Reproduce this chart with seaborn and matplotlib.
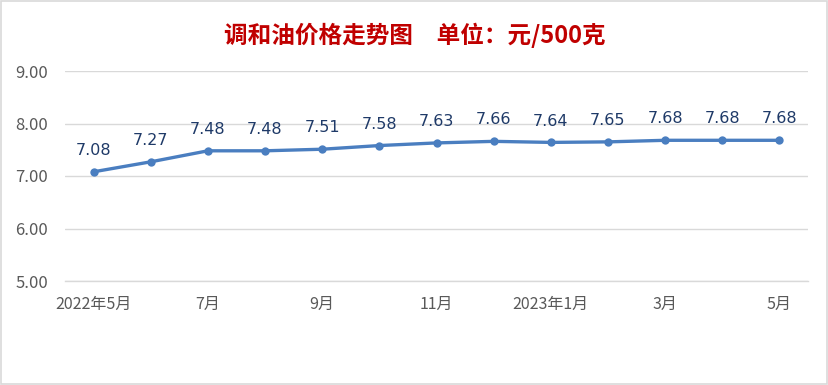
import matplotlib
matplotlib.use("Agg")
import matplotlib.pyplot as plt
from matplotlib.patches import Rectangle
from matplotlib.ticker import MultipleLocator, FixedLocator, FuncFormatter
import seaborn as sns
import pandas as pd

months = ["2022年5月", "6月", "7月", "8月", "9月", "10月", "11月", "12月",
          "2023年1月", "2月", "3月", "4月", "5月"]
prices = [7.08, 7.27, 7.48, 7.48, 7.51, 7.58, 7.63, 7.66, 7.64, 7.65, 7.68, 7.68, 7.68]
title_text = "调和油价格走势图　单位：元/500克"

sns.set_theme(style="white")
plt.rcParams["font.family"] = ["Noto Sans CJK SC", "DejaVu Sans"]

df = pd.DataFrame({"idx": range(len(months)), "month": months, "price": prices})

fig = plt.figure(figsize=(8.29, 3.85), dpi=100)
ax = fig.add_axes([65 / 829, 1 - 281 / 385, (808 - 65) / 829, (281 - 71) / 385])

line_color = "#4A7EC0"
sns.lineplot(data=df, x="idx", y="price", ax=ax, color=line_color, linewidth=2.4,
             marker="o", markersize=6, markeredgewidth=0, zorder=3)

for i, v in zip(df["idx"], df["price"]):
    ax.annotate(f"{v:.2f}", (i, v), xytext=(0, 10), textcoords="offset points",
                ha="center", va="bottom", fontsize=11.5, color="#1F3A68",
                family=["DejaVu Sans"])

ax.set_xlim(-0.5, len(months) - 0.5)
ax.set_ylim(5, 9)
ax.yaxis.set_major_locator(MultipleLocator(1))
ax.yaxis.set_major_formatter(FuncFormatter(lambda v, p: f"{v:.2f}"))
ax.grid(axis="y", color="#D9D9D9", linewidth=1)
ax.set_axisbelow(True)

# major ticks carry labels (every other month); minor ticks mark category boundaries
ax.xaxis.set_major_locator(FixedLocator(list(range(0, len(months), 2))))
ax.set_xticklabels([months[i] for i in range(0, len(months), 2)])
ax.xaxis.set_minor_locator(FixedLocator([b - 0.5 for b in range(len(months) + 1)]))
ax.tick_params(axis="x", which="major", length=0, pad=11, labelsize=11.5, labelcolor="#595959")
ax.tick_params(axis="x", which="minor", length=7, direction="in", color="#D9D9D9", width=1)
ax.tick_params(axis="y", length=0, pad=12, labelsize=12, labelcolor="#595959")
ax.set_xlabel("")
ax.set_ylabel("")

for s in ["top", "right", "left"]:
    ax.spines[s].set_visible(False)
ax.spines["bottom"].set_color("#D9D9D9")
ax.spines["bottom"].set_linewidth(1)

fig.text(0.5, 1 - 35 / 385, title_text, ha="center", va="center", fontsize=17,
         fontweight="bold", color="#C00000")

fig.patches.append(Rectangle((0.001, 0.002), 0.997, 0.996, transform=fig.transFigure,
                             fill=False, edgecolor="#D9D9D9", linewidth=1.2))

fig.savefig("out.png", dpi=100)
